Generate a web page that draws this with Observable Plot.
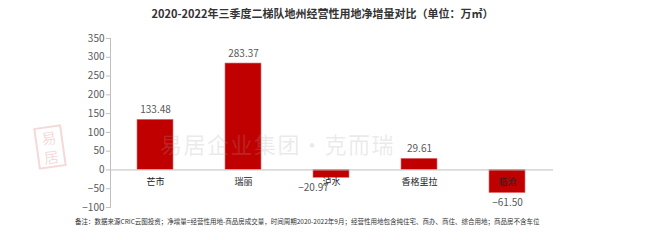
<!DOCTYPE html>
<html><head><meta charset="utf-8">
<script src="https://cdn.jsdelivr.net/npm/d3@7"></script>
<script src="https://cdn.jsdelivr.net/npm/@observablehq/plot@0.6"></script>
<style>
body{margin:0;background:#fff;font-family:"Noto Sans CJK SC","Noto Sans",sans-serif;width:645px;height:240px;overflow:hidden;position:relative}
#title{height:25px;line-height:26px;text-align:center;font-size:11px;font-weight:bold;color:#333;}
#chart{position:absolute;left:0;top:25px}
#note{position:absolute;left:75px;top:216px;font-size:6.5px;color:#333;white-space:nowrap}
#wm{position:absolute;left:160px;top:127px;font-size:22px;letter-spacing:1.5px;color:rgba(160,160,160,0.22);white-space:nowrap;pointer-events:none}
#stamp{position:absolute;left:36px;top:126px;width:24px;height:38px;border:2px solid rgba(210,80,80,0.22);color:rgba(210,80,80,0.22);font-size:15px;line-height:19px;text-align:center;transform:rotate(-8deg)}
</style></head>
<body>
<div id="title">2020-2022年三季度二梯队地州经营性用地净增量对比（单位：万㎡）</div>
<div id="chart"></div>
<div id="wm">易居企业集团·克而瑞</div>
<div id="stamp">易<br>居</div>
<div id="note">备注：数据来源CRIC云图投资；净增量=经营性用地-商品房成交量，时间周期2020-2022年9月；经营性用地包含纯住宅、商办、商住、综合用地；商品房不含车位</div>
<script>
const categories = ["芒市", "瑞丽", "泸水", "香格里拉", "临沧"];
const values = [133.48, 283.37, -20.97, 29.61, -61.50];
const yTicks = [-100, -50, 0, 50, 100, 150, 200, 250, 300, 350];

const data = categories.map((c, i) => ({c, v: values[i]}));
const pos = data.filter(d => d.v >= 0);
const neg = data.filter(d => d.v < 0);
const shifted = ["泸水"];

const fmt = v => (v < 0 ? "\u2212" : "") + Math.abs(v).toFixed(2);

const chart = Plot.plot({
  width: 645,
  height: 190,
  marginLeft: 110,
  marginRight: 92,
  marginTop: 13,
  marginBottom: 8,
  style: {fontFamily: '"Noto Sans CJK SC","Noto Sans",sans-serif', background: "transparent", overflow: "visible"},
  x: {domain: categories, paddingInner: 0.59, paddingOuter: 0.295, axis: null},
  y: {domain: [-100, 350], ticks: yTicks},
  marks: [
    Plot.frame({anchor: "left", stroke: "#bfbfbf"}),
    Plot.axisY({ticks: yTicks, tickSize: 4, stroke: "#bfbfbf", color: "#595959", fontSize: 10, tickPadding: 2, label: null, tickFormat: d => d < 0 ? "\u2212" + Math.abs(d) : d}),
    Plot.barY(data, {x: "c", y: "v", fill: "#c00000", stroke: "#e07070", strokeWidth: 0.6}),
    Plot.ruleY([0], {stroke: "#bfbfbf"}),
    Plot.text(data, {x: "c", y: () => 0, text: "c", dy: 12, fontSize: 9, fill: "#222"}),
    Plot.text(pos, {x: "c", y: "v", text: d => fmt(d.v), dy: -10, fontSize: 10, fill: "#595959"}),
    Plot.text(neg.filter(d => !shifted.includes(d.c)), {x: "c", y: "v", text: d => fmt(d.v), dy: 10, fontSize: 10, fill: "#595959"}),
    Plot.text(neg.filter(d => shifted.includes(d.c)), {x: "c", y: "v", text: d => fmt(d.v), dy: 10, dx: -18, fontSize: 10, fill: "#595959"})
  ]
});
document.getElementById("chart").appendChild(chart);
</script>
</body></html>
